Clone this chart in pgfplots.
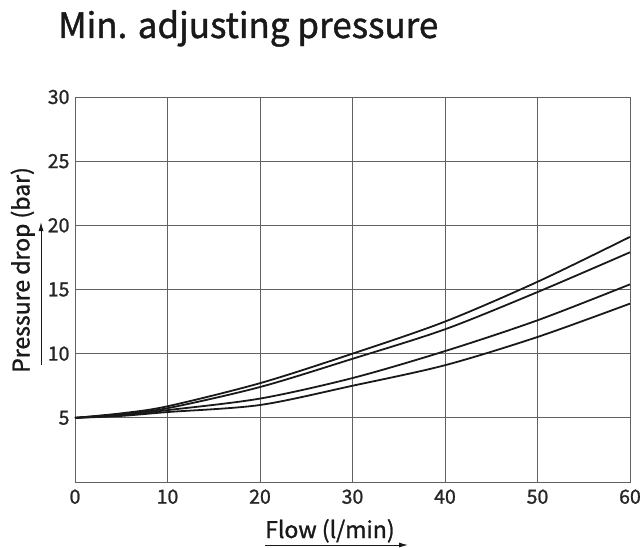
\documentclass[border=0pt]{standalone}
\usepackage{fontspec}
\setmainfont{Noto Sans CJK SC}[FakeBold=1.2]
\usepackage{pgfplots}
\pgfplotsset{compat=1.18}
\usetikzlibrary{arrows.meta}
\begin{document}
\begin{tikzpicture}[x=1pt,y=1pt]
\path[use as bounding box] (0,0) rectangle (642,547);
\begin{axis}[at={(75pt,65pt)}, anchor=south west, width=555pt, height=385pt, scale only axis,
  xmin=0, xmax=60, ymin=0, ymax=30,
  xtick={0,10,...,60}, ytick={5,10,...,30},
  grid=major,
  major grid style={draw=black!62, line width=1pt},
  axis line style={draw=black!62, line width=1pt},
  major tick length=0pt,
  tick label style={font=\fontsize{19.5}{19.5}\selectfont, text=black!85},
  /pgf/number format/assume math mode=true,
  xticklabel style={yshift=-4pt},
  yticklabel style={xshift=-2pt},
  clip=false]
\addplot[black!90, line width=1.8pt, smooth] coordinates {(0,5) (5,5.35) (10,5.9) (20,7.7) (30,10.0) (40,12.5) (50,15.6) (60,19.1)};
\addplot[black!90, line width=1.8pt, smooth] coordinates {(0,5) (5,5.3) (10,5.75) (20,7.4) (30,9.6) (40,11.9) (50,14.8) (60,17.9)};
\addplot[black!90, line width=1.8pt, smooth] coordinates {(0,5) (5,5.2) (10,5.6) (20,6.5) (30,8.1) (40,10.2) (50,12.6) (60,15.4)};
\addplot[black!90, line width=1.8pt, smooth] coordinates {(0,5) (5,5.15) (10,5.45) (20,6.0) (30,7.5) (40,9.1) (50,11.3) (60,13.9)};
\end{axis}
\node[anchor=base west, inner sep=0pt, font=\fontsize{35}{35}\selectfont, text=black!90] at (58,509) {Min. adjusting pressure};
\node[anchor=base, rotate=90, inner sep=0pt, font=\fontsize{23}{23}\selectfont, text=black!90] at (29.5,277) {Pressure drop (bar)};
\draw[black!90, line width=1pt, -{Latex[length=9pt,width=5pt]}] (41,182) -- (41,325);
\node[anchor=base west, inner sep=0pt, font=\fontsize{23}{23}\selectfont, text=black!90] at (265,9) {Flow (l/min)};
\draw[black!90, line width=1pt, -{Latex[length=9pt,width=5pt]}] (265,2) -- (408,2);
\end{tikzpicture}
\end{document}
